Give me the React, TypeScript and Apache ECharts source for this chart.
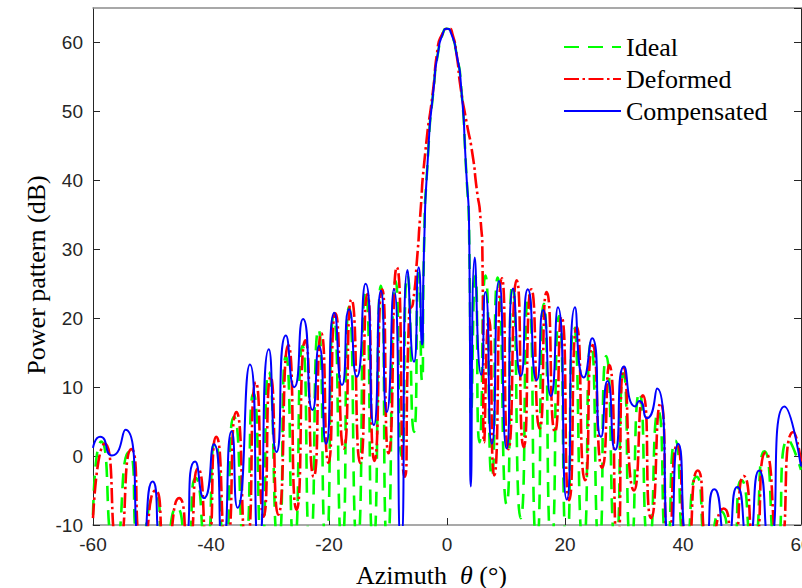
import React, { useEffect, useRef } from 'react';
import * as echarts from 'echarts';

const seriesNames = ['Ideal', 'Deformed', 'Compensated'];

// [azimuth (deg), power (dB)]; values below -10 are off-scale nulls
const ideal: [number, number][] = [
  [-60, -8.5], [-58.6, 2.1], [-56.3, -13], [-53.9, 0.6], [-51.9, -13], [-49.5, -5.7], [-47.8, -13],
  [-45.8, -7.5], [-44.2, -13], [-42.6, -3.2], [-40.9, -13], [-39.3, 2.0], [-37.7, -13], [-36.1, 5.7],
  [-34.3, -13], [-32.8, 9.1], [-31.4, -13], [-30.2, 12.2], [-28.6, -13], [-27.3, 14.5], [-25.9, -13],
  [-24.5, 16.0], [-23.2, -13], [-21.8, 18.4], [-20.5, -13], [-19.2, 20.4], [-17.8, -13], [-16.6, 21.6],
  [-15.2, -13], [-13.8, 23.9], [-12.5, -13], [-11.2, 24.7], [-10.1, -13], [-8.7, 25.4], [-7.7, 0],
  [-6.7, 26.3], [-5.6, 3.5], [-4.8, 26.5], [-4.25, 11], [-3.9, 29.9], [-3.2, 43.9], [-2.25, 53.5],
  [-1.5, 58.6], [-0.7, 61.3], [0, 62.0], [0.7, 61.3], [1.6, 58.4], [2.4, 53.5], [3.1, 43.9], [3.8, 29.4],
  [4.1, 6], [4.8, 26.2], [5.5, 2], [6.5, 26.2], [7.6, -3], [8.6, 25.9], [10.1, -7], [11.1, 24.9],
  [12.5, -9], [13.8, 23.5], [15.2, -13], [16.4, 22.1], [17.7, -13], [19.0, 20.3], [20.3, -13],
  [21.5, 18.7], [23.1, -13], [24.4, 16.5], [25.8, -13], [27.0, 14.5], [28.6, -13], [29.9, 12.0],
  [31.2, -13], [32.6, 9.2], [34.2, -13], [35.8, 6.5], [37.3, -13], [38.7, 2.2], [40.5, -13], [42.3, -3.0],
  [44.4, -13], [46.4, -8], [48.2, -13], [49.9, -3.5], [51.8, -13], [53.8, 0.7], [55.8, -13], [57.8, 2.4],
  [60, -2],
];

const deformed: [number, number][] = [
  [-60, -9], [-58.0, 1.8], [-55.7, -13], [-53.5, 1.0], [-51.5, -13], [-49.4, -5.0], [-47.6, -13],
  [-45.4, -6.1], [-43.9, -13], [-42.2, -1.8], [-40.6, -13], [-39.1, 2.8], [-37.4, -13], [-35.7, 6.4],
  [-34.0, -13], [-32.4, 10.7], [-31.1, -8.8], [-29.9, 11.5], [-28.6, -8.5], [-26.9, 16.1], [-25.5, -7.8],
  [-24.0, 16.8], [-22.6, -3], [-21.3, 17.8], [-20.1, -1], [-18.9, 20.7], [-17.5, 1.1], [-16.2, 22.7],
  [-14.7, -1], [-13.5, 23.5], [-12.3, -0.7], [-11.0, 24.2], [-9.9, 0.4], [-8.5, 27.4], [-7.2, -3],
  [-6.4, 21], [-5.8, 22], [-5.0, 29.4], [-4.6, 34.2], [-3.7, 43.9], [-2.3, 53.5], [-1.7, 58.4],
  [-0.7, 61.4], [0.3, 62.0], [0.9, 61.3], [1.6, 58.4], [2.3, 53.5], [3.3, 48.5], [4.3, 43.9], [5.0, 39],
  [5.7, 34.2], [6.0, 29.4], [6.3, 2.0], [7.1, 20], [8.0, -2.8], [9.3, 25.8], [10.4, 1.0], [11.8, 25.5],
  [13.0, 1.3], [14.3, 24.2], [15.7, 4.0], [16.9, 23.8], [18.3, 3.5], [19.4, 20.2], [20.7, -6.4],
  [22.0, 18.7], [23.4, -3.5], [24.7, 16.1], [26.3, -1.7], [27.5, 13.2], [28.9, -13], [30.0, 12.9],
  [31.7, -5], [33.2, 8.8], [34.6, -9], [36.2, 7.7], [37.6, -13], [39.0, 1.6], [40.8, -13], [42.5, -2.1],
  [44.6, -13], [46.9, -7.6], [48.4, -13], [50.3, -2.9], [52.1, -13], [54.0, 0.5], [56.3, -13],
  [58.7, 3.5], [60, -0.8],
];

const compensated: [number, number][] = [
  [-60, 1.2], [-58.8, 2.8], [-56.8, 0.1], [-54.5, 3.8], [-51.7, -13], [-49.9, -3.7], [-48.1, -13],
  [-46.5, -12], [-44.9, -13], [-42.7, -0.8], [-41.2, -6.1], [-39.5, 1.7], [-38.0, -13], [-36.5, 3.6],
  [-35.5, -7.5], [-33.4, 13.3], [-31.9, -13], [-30.2, 15.5], [-28.9, 0.6], [-27.3, 17.5], [-25.9, 10.0],
  [-24.4, 19.9], [-22.8, 6.7], [-21.7, 16.0], [-20.5, 1.8], [-19.1, 20.8], [-17.8, 10.3], [-16.6, 21.3],
  [-15.3, 11.5], [-13.8, 25.0], [-12.4, 4.5], [-11.2, 24.0], [-10.2, 6.4], [-9.0, 24.2], [-7.8, -13],
  [-6.7, 27.0], [-5.6, 13.7], [-4.8, 27.4], [-4.25, 16.2], [-3.9, 29.9], [-3.2, 43.9], [-2.25, 53.5],
  [-1.5, 58.6], [-0.7, 61.3], [0, 62.0], [0.7, 61.3], [1.6, 58.4], [2.4, 53.5], [3.1, 43.9], [3.8, 29.4],
  [4.05, -4.4], [4.7, 28.8], [5.8, 11.8], [6.5, 23.8], [7.6, 1.8], [8.8, 25.4], [10.1, 1.1], [11.2, 24.3],
  [12.5, 11.6], [13.7, 24.2], [15.2, 11.0], [16.3, 21.2], [17.6, 8.7], [18.8, 21.6], [20.3, -6.3],
  [21.7, 21.6], [23.2, 11.4], [24.6, 17.1], [26.1, 2.8], [27.2, 10.9], [28.5, 0.9], [30.0, 13.0],
  [31.9, 7.2], [32.6, 8.0], [33.9, 5.5], [35.6, 9.8], [37.8, -13], [39.2, 1.8], [41.0, -13], [43.3, -13],
  [45.3, -4.8], [47.4, -12.5], [49.2, -4.5], [51.0, -12.5], [52.9, -2.1], [54.6, -12.5], [57.2, 7.2],
  [60, -1.5],
];

const xTickValues = [-60, -40, -20, 0, 20, 40, 60];
const yTickValues = [-10, 0, 10, 20, 30, 40, 50, 60];

const SERIF = '"Liberation Serif", "Times New Roman", serif';
const SANS = '"Liberation Sans", Arial, sans-serif';

export default function App() {
  const ref = useRef<HTMLDivElement>(null);

  useEffect(() => {
    if (!ref.current) return;
    const chart = echarts.init(ref.current, undefined, { renderer: 'svg' });
    const xMin = xTickValues[0];
    const xMax = xTickValues[xTickValues.length - 1];
    const yMin = yTickValues[0];

    const axisTickStyle = { show: true, inside: true, length: 7, lineStyle: { color: '#262626', width: 1 } };
    const SMOOTH = 0.75;
    const GRID = { left: 93, right: 1, top: 8, bottom: 63 };
    const tickFont = { color: '#262626', fontSize: 19, fontFamily: SANS };

    chart.setOption({
      animation: false,
      backgroundColor: '#ffffff',
      grid: { ...GRID, containLabel: false },
      legend: {
        data: seriesNames,
        orient: 'vertical',
        left: 558,
        top: 29,
        itemWidth: 57,
        itemHeight: 10,
        itemGap: 6,
        itemStyle: { opacity: 0 },
        textStyle: { fontFamily: SERIF, fontSize: 26, color: '#000', lineHeight: 26 },
      },
      xAxis: [
        {
          type: 'value', min: xMin, max: xMax, interval: 20, position: 'bottom',
          axisLine: { show: true, onZero: false, lineStyle: { color: '#8c8c8c', width: 1.5 } },
          axisTick: axisTickStyle,
          axisLabel: { ...tickFont, margin: 10, showMaxLabel: false },
          splitLine: { show: false },
        },
        {
          type: 'value', min: xMin, max: xMax, interval: 20, position: 'top',
          axisLine: { show: true, onZero: false, lineStyle: { color: '#8c8c8c', width: 1.5 } },
          axisTick: { show: false }, axisLabel: { show: false }, splitLine: { show: false },
        },
      ],
      yAxis: [
        {
          type: 'value', min: yMin, max: 65, interval: 10, position: 'left',
          axisLine: { show: true, onZero: false, lineStyle: { color: '#262626', width: 1 } },
          axisTick: axisTickStyle,
          axisLabel: { ...tickFont, margin: 10, showMaxLabel: false },
          splitLine: { show: false },
        },
        {
          type: 'value', min: yMin, max: 65, interval: 10, position: 'right',
          axisLine: { show: true, onZero: false, lineStyle: { color: '#262626', width: 1 } },
          axisTick: axisTickStyle,
          axisLabel: { show: false }, splitLine: { show: false },
        },
      ],
      series: [
        {
          name: seriesNames[0], type: 'line', data: ideal, symbol: 'none', showSymbol: false,
          smooth: SMOOTH, clip: true, z: 2,
          lineStyle: { color: '#00ff00', width: 2.6, type: [15, 9] },
          itemStyle: { color: '#00ff00' },
        },
        {
          name: seriesNames[1], type: 'line', data: deformed, symbol: 'none', showSymbol: false,
          smooth: SMOOTH, clip: true, z: 3,
          lineStyle: { color: '#ff0000', width: 2.6, type: [15, 3.5, 2.5, 3.5] },
          itemStyle: { color: '#ff0000' },
        },
        {
          name: seriesNames[2], type: 'line', data: compensated, symbol: 'none', showSymbol: false,
          smooth: SMOOTH, clip: true, z: 4,
          lineStyle: { color: '#0000ff', width: 2 },
          itemStyle: { color: '#0000ff' },
        },
      ],
      graphic: [
        {
          // last x tick label, centred on the right edge (cut off by the page like the original)
          type: 'text', x: 802 - GRID.right, y: 588 - GRID.bottom + 10,
          style: { text: String(xMax), ...tickFont, fill: '#262626', align: 'center', verticalAlign: 'top' },
        },
        {
          type: 'text', x: 36, y: 275, rotation: Math.PI / 2,
          style: {
            text: 'Power pattern (dB)', fontFamily: SERIF, fontSize: 26, fill: '#000',
            align: 'center', verticalAlign: 'middle',
          },
        },
        {
          type: 'text', x: 356, y: 575,
          style: {
            text: '{a|Azimuth  }{b|θ}{a| (°)}',
            align: 'left', verticalAlign: 'middle', fill: '#000',
            rich: {
              a: { fontFamily: SERIF, fontSize: 26, fill: '#000' },
              b: { fontFamily: SERIF, fontSize: 26, fontStyle: 'italic', fill: '#000' },
            },
          },
        },
      ],
    });
    return () => chart.dispose();
  }, []);

  return (
    <div
      ref={ref}
      style={{ position: 'absolute', left: 0, top: 0, width: 802, height: 588, background: '#fff' }}
    />
  );
}
